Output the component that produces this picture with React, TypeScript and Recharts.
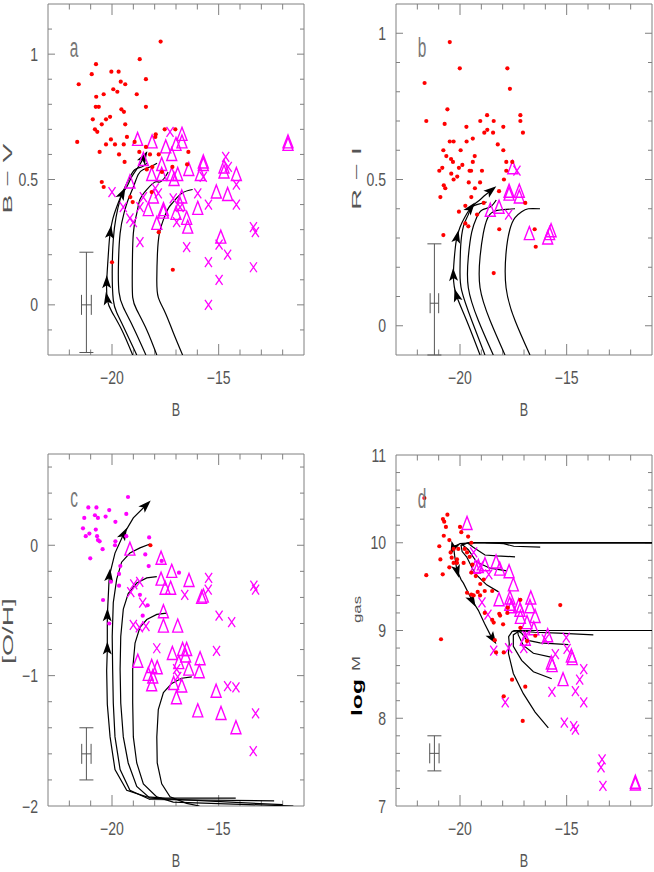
import React from 'react'
import { ComposedChart, XAxis, YAxis, Scatter, Line, ReferenceLine, ErrorBar, Label } from 'recharts'

type Pt = [number, number]

const FONT = '"Liberation Sans", Arial, sans-serif'
const MAG = '#ff00ff'
const RED = '#ff0000'
const AXIS = '#808080'
const TXT = '#555555'

const X_DOMAIN: Pt = [-23, -11]
const xTickLabels = [-20, -15]

// ---- panel a: B-V vs B ----
const aRed: Pt[] = [
  [-17.72, 1.05], [-18.7, 0.98], [-20.75, 0.96], [-20.95, 0.92], [-20.03, 0.93], [-19.69, 0.93], [-21.56, 0.88],
  [-19.59, 0.89], [-19.38, 0.88], [-18.41, 0.9], [-19.94, 0.86], [-19.75, 0.85], [-18.84, 0.84], [-20.39, 0.84],
  [-20.74, 0.83], [-20.76, 0.79], [-20.62, 0.79], [-18.41, 0.79], [-19.56, 0.78], [-19.44, 0.77], [-20.9, 0.74],
  [-20.09, 0.75], [-20.28, 0.74], [-20.48, 0.72], [-19.38, 0.72], [-20.8, 0.7], [-20.69, 0.69], [-19.3, 0.67],
  [-20.05, 0.66], [-21.63, 0.65], [-20.28, 0.64], [-19.86, 0.64], [-19.45, 0.64], [-18.94, 0.65], [-17.97, 0.67],
  [-17.95, 0.68], [-17.53, 0.7], [-17.03, 0.7], [-20.58, 0.61], [-19.67, 0.6], [-18.41, 0.63], [-18.72, 0.61],
  [-18.22, 0.6], [-17.81, 0.6], [-19.41, 0.57], [-16.42, 0.61], [-16.48, 0.56], [-17.17, 0.55], [-18.37, 0.54],
  [-18.11, 0.55], [-20.48, 0.49], [-20.39, 0.47], [-18.14, 0.45], [-19.03, 0.41], [-19.14, 0.43], [-17.81, 0.29],
  [-20.0, 0.17], [-17.15, 0.14], [-17.66, 0.53],
]
const aTri: Pt[] = [
  [-18.8, 0.66], [-18.12, 0.65], [-17.48, 0.63], [-16.72, 0.68], [-16.72, 0.65], [-17.0, 0.64], [-17.2, 0.6],
  [-18.53, 0.58], [-17.67, 0.56], [-17.67, 0.52], [-18.14, 0.52], [-17.2, 0.52], [-16.92, 0.52], [-17.09, 0.5],
  [-16.4, 0.54], [-15.72, 0.57], [-15.72, 0.56], [-15.86, 0.52], [-14.75, 0.55], [-14.75, 0.53], [-14.17, 0.52],
  [-19.16, 0.49], [-18.06, 0.43], [-18.3, 0.38], [-17.59, 0.38], [-17.59, 0.37], [-17.0, 0.365], [-16.73, 0.43],
  [-16.81, 0.4], [-17.9, 0.325], [-16.5, 0.345], [-16.45, 0.31], [-15.98, 0.385], [-15.11, 0.45], [-14.58, 0.44],
  [-14.9, 0.27], [-11.75, 0.64], [-11.75, 0.65],
]
const aCross: Pt[] = [
  [-17.28, 0.69], [-20.0, 0.45], [-19.47, 0.39], [-19.16, 0.345], [-19.0, 0.33], [-18.69, 0.25], [-18.53, 0.43],
  [-18.69, 0.39], [-17.97, 0.465], [-17.83, 0.445], [-17.13, 0.425], [-16.97, 0.33], [-16.81, 0.39], [-16.5, 0.23],
  [-15.98, 0.445], [-15.72, 0.51], [-15.48, 0.4], [-15.48, 0.17], [-15.48, 0.0], [-14.98, 0.1], [-14.98, 0.24],
  [-14.58, 0.2], [-14.67, 0.59], [-14.55, 0.55], [-14.17, 0.48], [-14.17, 0.4], [-13.37, 0.31], [-13.28, 0.29],
  [-13.37, 0.15],
]
const aTrack1: Pt[] = [
  [-19.03, -0.2], [-19.54, -0.1], [-20.01, -0.027], [-20.22, 0.02], [-20.25, 0.086], [-20.2, 0.165], [-20.15, 0.23],
  [-20.09, 0.285], [-19.97, 0.34], [-19.78, 0.39], [-19.54, 0.44], [-19.31, 0.47], [-19.08, 0.51], [-18.77, 0.55],
  [-18.53, 0.585], [-18.37, 0.61],
]
const aTrack2: Pt[] = [
  [-18.84, -0.2], [-19.39, -0.1], [-19.78, -0.03], [-19.94, 0.02], [-19.99, 0.126], [-19.94, 0.26], [-19.81, 0.35],
  [-19.62, 0.42], [-19.39, 0.47], [-19.16, 0.51], [-18.92, 0.54], [-18.61, 0.55], [-18.37, 0.565],
]
const aTrack3: Pt[] = [
  [-18.41, -0.2], [-19.0, -0.09], [-19.47, -0.01], [-19.67, 0.05], [-19.7, 0.15], [-19.62, 0.285], [-19.44, 0.365],
  [-19.24, 0.42], [-19.0, 0.47], [-18.77, 0.52], [-18.53, 0.54], [-18.22, 0.55], [-17.89, 0.565],
]
const aTrack4: Pt[] = [
  [-17.9, -0.2], [-18.37, -0.1], [-18.84, -0.02], [-19.03, 0.03], [-19.05, 0.126], [-19.0, 0.285], [-18.84, 0.365],
  [-18.69, 0.42], [-18.37, 0.46], [-17.98, 0.49], [-17.75, 0.49], [-17.51, 0.51], [-17.37, 0.53],
]
const aTrack5: Pt[] = [
  [-16.69, -0.2], [-17.13, -0.11], [-17.51, -0.03], [-17.83, 0.03], [-17.9, 0.1], [-17.87, 0.205], [-17.78, 0.285],
  [-17.59, 0.34], [-17.36, 0.385], [-17.13, 0.41], [-16.73, 0.445], [-16.22, 0.46],
]
const aArrows = [3, 4, 7, 10, 14]
const aErr = [{ x: -21.2, y: 0, ex: 0.23, ey: [0.19, 0.21] }]
const aYLabels = [0, 0.5, 1]

// ---- panel b: R-I vs B ----
const bRed: Pt[] = [
  [-20.48, 0.97], [-20.01, 0.88], [-21.66, 0.83], [-17.78, 0.88], [-17.66, 0.81], [-20.59, 0.74], [-21.58, 0.7],
  [-20.72, 0.69], [-19.7, 0.68], [-19.05, 0.7], [-18.73, 0.72], [-18.42, 0.7], [-18.86, 0.66], [-18.72, 0.67],
  [-18.45, 0.66], [-17.97, 0.68], [-17.17, 0.72], [-17.17, 0.7], [-17.05, 0.66], [-20.48, 0.63], [-20.3, 0.63],
  [-19.69, 0.63], [-19.4, 0.64], [-20.78, 0.6], [-19.97, 0.6], [-18.23, 0.62], [-17.97, 0.6], [-20.64, 0.58],
  [-19.31, 0.58], [-20.42, 0.57], [-20.33, 0.56], [-19.4, 0.56], [-19.89, 0.55], [-20.83, 0.54], [-20.05, 0.54],
  [-20.97, 0.53], [-19.55, 0.53], [-19.48, 0.53], [-18.97, 0.53], [-17.83, 0.56], [-17.55, 0.56], [-17.83, 0.53],
  [-20.41, 0.52], [-20.13, 0.51], [-20.3, 0.5], [-20.76, 0.48], [-20.69, 0.47], [-19.59, 0.49], [-19.06, 0.49],
  [-19.3, 0.47], [-17.94, 0.5], [-20.92, 0.44], [-19.47, 0.44], [-18.17, 0.46], [-18.89, 0.42], [-19.75, 0.41],
  [-20.05, 0.39], [-19.2, 0.38], [-16.94, 0.42], [-19.75, 0.35], [-19.61, 0.34], [-18.16, 0.33], [-20.78, 0.31],
  [-16.5, 0.33], [-16.45, 0.27], [-18.42, 0.18],
]
const bTri: Pt[] = [
  [-17.53, 0.54], [-17.7, 0.46], [-17.7, 0.45], [-17.22, 0.46], [-17.22, 0.44], [-18.58, 0.395], [-18.17, 0.405],
  [-16.75, 0.315], [-15.89, 0.3], [-15.73, 0.325], [-15.8, 0.315],
]
const bCross: Pt[] = [[-17.33, 0.53], [-17.72, 0.38]]
const bTrack1: Pt[] = [
  [-19.06, -0.1], [-19.69, 0.018], [-20.15, 0.1], [-20.31, 0.17], [-20.23, 0.26], [-20.15, 0.3], [-20.0, 0.337],
  [-19.77, 0.372], [-19.53, 0.4], [-19.3, 0.417], [-19.06, 0.431], [-18.83, 0.446], [-18.59, 0.46],
]
const bTrack2: Pt[] = [
  [-18.83, -0.1], [-19.45, 0.018], [-19.92, 0.12], [-20.0, 0.19], [-19.97, 0.27], [-19.84, 0.34], [-19.61, 0.38],
  [-19.45, 0.406], [-19.06, 0.417], [-18.75, 0.423],
]
const bTrack3: Pt[] = [
  [-18.44, -0.1], [-19.14, 0.018], [-19.61, 0.13], [-19.61, 0.235], [-19.45, 0.32], [-19.22, 0.37], [-18.98, 0.395],
  [-18.59, 0.406], [-18.3, 0.43],
]
const bTrack4: Pt[] = [
  [-17.89, -0.1], [-18.59, 0.018], [-19.06, 0.13], [-19.06, 0.235], [-18.91, 0.315], [-18.72, 0.366], [-18.44, 0.39],
  [-17.97, 0.397], [-17.42, 0.4],
]
const bTrack5: Pt[] = [
  [-16.72, -0.1], [-17.42, 0.018], [-17.84, 0.13], [-17.84, 0.25], [-17.66, 0.33], [-17.42, 0.37], [-17.11, 0.39],
  [-16.8, 0.4], [-16.25, 0.4],
]
const bArrows = [2, 3, 5, 8, 12]
const bErr = [{ x: -21.2, y: 0.077, ex: 0.2, ey: [0.177, 0.203] }]
const bYLabels = [0, 0.5, 1]

// ---- panel c: [O/H] vs B ----
const cDots: Pt[] = [
  [-19.25, 0.37], [-21.11, 0.29], [-20.73, 0.29], [-20.13, 0.27], [-21.3, 0.21], [-20.8, 0.23], [-20.66, 0.21],
  [-20.3, 0.22], [-19.33, 0.24], [-19.84, 0.18], [-21.36, 0.13], [-20.76, 0.12], [-21.06, 0.09], [-21.23, 0.07],
  [-20.7, 0.07], [-20.66, 0.04], [-20.58, 0.03], [-19.84, 0.03], [-19.33, 0.07], [-19.86, 0.0], [-18.26, 0.06],
  [-20.44, -0.03], [-21.02, -0.1], [-18.44, -0.07], [-17.67, -0.12], [-19.61, -0.16], [-18.28, -0.16],
  [-19.67, -0.22], [-16.86, -0.21], [-20.05, -0.28], [-19.67, -0.31], [-18.69, -0.38], [-20.42, -0.42],
  [-18.33, -0.46], [-18.56, -0.54], [-20.13, -0.6],
]
const cRed: Pt[] = [[-18.2, 0.0]]
const cTri: Pt[] = [
  [-19.16, -0.03], [-17.7, -0.1], [-17.2, -0.2], [-17.7, -0.26], [-17.51, -0.33], [-17.25, -0.33], [-16.39, -0.27],
  [-17.59, -0.51], [-17.59, -0.62], [-16.92, -0.62], [-18.79, -0.89], [-18.14, -0.93], [-18.3, -0.99],
  [-17.88, -0.94], [-18.09, -1.01], [-18.14, -1.07], [-17.17, -0.83], [-16.69, -0.8], [-16.5, -0.8],
  [-16.55, -0.85], [-16.87, -0.9], [-15.87, -0.87], [-16.4, -0.95], [-15.91, -0.97], [-17.11, -1.06],
  [-16.73, -1.08], [-16.98, -1.17], [-15.12, -1.12], [-15.98, -1.27], [-14.89, -1.29], [-14.19, -1.4],
  [-15.72, -0.39], [-15.8, -0.4],
]
const cCross: Pt[] = [
  [-15.47, -0.25], [-15.49, -0.34], [-16.59, -0.38], [-19.12, -0.36], [-18.98, -0.3], [-18.7, -0.28],
  [-18.56, -0.44], [-19.0, -0.61], [-18.72, -0.63], [-18.41, -0.62], [-17.9, -0.79], [-14.98, -0.54],
  [-14.39, -0.59], [-15.1, -0.81], [-14.58, -1.08], [-14.19, -1.09], [-13.35, -0.31], [-13.27, -0.34],
  [-13.27, -1.29], [-13.38, -1.58], [-16.97, -0.95], [-16.92, -1.01],
]
const cTrack1: Pt[] = [
  [-14.2, -1.94], [-17.5, -1.94], [-18.37, -1.93], [-19.31, -1.88], [-19.86, -1.72], [-20.09, -1.47],
  [-20.22, -1.22], [-20.25, -0.96], [-20.22, -0.8], [-20.22, -0.545], [-20.13, -0.24], [-19.86, -0.06],
  [-19.47, 0.08], [-19.0, 0.21], [-18.45, 0.3],
]
const cTrack2: Pt[] = [
  [-12.4, -1.96], [-18.22, -1.95], [-19.16, -1.88], [-19.62, -1.72], [-19.86, -1.47], [-19.94, -1.21],
  [-19.97, -0.95], [-19.99, -0.7], [-19.94, -0.44], [-19.78, -0.26], [-19.55, -0.13], [-19.16, -0.06],
  [-18.69, -0.02], [-18.22, 0.01],
]
const cTrack3: Pt[] = [
  [-12.0, -1.99], [-18.22, -1.94], [-18.84, -1.85], [-19.24, -1.67], [-19.47, -1.47], [-19.59, -1.21],
  [-19.62, -0.95], [-19.59, -0.7], [-19.47, -0.49], [-19.24, -0.37], [-18.84, -0.29], [-18.37, -0.25],
  [-17.9, -0.24],
]
const cTrack4: Pt[] = [
  [-11.5, -2.0], [-17.13, -1.97], [-17.9, -1.93], [-18.53, -1.83], [-18.84, -1.67], [-19.0, -1.47],
  [-19.03, -1.21], [-19.03, -0.95], [-18.92, -0.75], [-18.69, -0.63], [-18.37, -0.57], [-17.9, -0.53],
  [-17.44, -0.52],
]
const cTrack5: Pt[] = [
  [-15.9, -2.0], [-16.5, -1.98], [-17.28, -1.93], [-17.67, -1.83], [-17.88, -1.67], [-17.9, -1.47],
  [-17.83, -1.26], [-17.59, -1.13], [-17.2, -1.06], [-16.73, -1.02], [-16.26, -1.01],
]
const cArrows = [8, 9, 10, 12, 14]
const cErr = [{ x: -21.2, y: -1.6, ex: 0.22, ey: 0.2 }]
const cYLabels = [-2, -1, 0]

// ---- panel d: log M_gas vs B ----
const dRed: Pt[] = [
  [-21.67, 10.51], [-20.59, 10.32], [-20.8, 10.27], [-20.74, 10.24], [-20.66, 10.18], [-20.0, 10.18],
  [-19.94, 10.12], [-20.76, 10.08], [-19.62, 10.07], [-20.5, 10.03], [-20.97, 9.96], [-20.3, 9.93],
  [-20.08, 9.93], [-19.47, 10.0], [-19.78, 9.93], [-20.44, 9.89], [-20.92, 9.81], [-20.39, 9.83],
  [-20.14, 9.81], [-19.67, 9.89], [-19.55, 9.84], [-20.14, 9.77], [-20.3, 9.77], [-20.5, 9.72],
  [-19.83, 9.77], [-19.42, 9.75], [-21.58, 9.63], [-20.81, 9.64], [-19.47, 9.66], [-19.26, 9.62],
  [-19.05, 9.53], [-18.89, 9.58], [-18.84, 9.45], [-19.67, 9.43], [-19.47, 9.41], [-19.36, 9.4],
  [-19.17, 9.44], [-19.06, 9.4], [-18.49, 9.45], [-18.84, 9.2], [-18.16, 9.19], [-18.12, 9.17],
  [-18.49, 9.12], [-18.42, 9.09], [-17.98, 9.07], [-17.76, 9.26], [-17.78, 9.2], [-17.17, 9.35],
  [-17.17, 9.03], [-16.86, 8.88], [-16.47, 8.94], [-18.37, 8.89], [-18.31, 8.75], [-17.95, 8.75],
  [-17.56, 8.44], [-17.95, 8.25], [-16.94, 8.36], [-15.3, 9.29], [-17.06, 7.97], [-20.89, 8.9],
]
const dTri: Pt[] = [
  [-19.67, 10.22], [-19.14, 9.73], [-18.83, 9.75], [-18.31, 9.78], [-17.7, 9.67], [-17.5, 9.52], [-18.17, 9.35],
  [-17.66, 9.37], [-17.58, 9.27], [-17.19, 9.23], [-16.68, 9.37], [-16.72, 9.27], [-16.48, 9.16],
  [-19.28, 9.72], [-18.14, 9.7], [-17.67, 9.3], [-17.25, 9.28], [-17.17, 9.15], [-16.86, 9.09],
  [-16.54, 9.02], [-16.94, 8.9], [-15.89, 8.94], [-15.72, 8.63], [-15.68, 8.6], [-14.78, 8.71],
  [-14.74, 8.68], [-15.17, 8.44], [-11.78, 7.27], [-11.78, 7.25],
]
const dCross: Pt[] = [
  [-19.36, 9.89], [-19.05, 9.74], [-18.65, 9.64], [-18.97, 9.32], [-18.69, 9.18], [-18.42, 8.77], [-17.72, 8.8],
  [-17.88, 8.18], [-17.01, 8.8], [-16.91, 8.94], [-16.0, 8.9], [-15.53, 8.73], [-15.69, 8.3], [-15.02, 8.92],
  [-14.98, 8.79], [-15.11, 7.95], [-14.67, 7.91], [-14.59, 7.87], [-14.59, 8.31], [-14.39, 8.44],
  [-14.2, 8.56], [-14.2, 8.18], [-13.34, 7.53], [-13.39, 7.44], [-13.3, 7.23],
]
const dTrackA: Pt[] = [
  [-11, 10.0], [-19.5, 10.0], [-20.0, 9.99], [-20.3, 9.95], [-20.25, 9.85], [-20.15, 9.69], [-19.95, 9.58],
  [-19.84, 9.54], [-19.45, 9.35], [-19.14, 9.23], [-18.85, 9.08], [-18.58, 8.95], [-18.5, 8.92],
]
const dTrackB: Pt[] = [[-11, 10.0], [-19.6, 10.0], [-19.95, 9.97], [-19.9, 9.9], [-19.69, 9.84], [-19.3, 9.65], [-18.75, 9.52], [-18.19, 9.44]]
const dTrackC: Pt[] = [[-11, 10.0], [-19.6, 10.0], [-19.9, 9.98], [-19.61, 9.92], [-19.22, 9.78], [-18.59, 9.71], [-17.8, 9.68]]
const dTrackD: Pt[] = [[-11, 10.0], [-19.3, 10.0], [-19.6, 9.99], [-19.38, 9.95], [-18.83, 9.86], [-18.28, 9.85], [-17.42, 9.84]]
const dTrackE: Pt[] = [[-11, 10.0], [-18.8, 10.0], [-17.95, 9.99], [-17.48, 9.96], [-16.24, 9.95]]
const dTrackL1: Pt[] = [
  [-11, 9.0], [-17.0, 9.0], [-17.55, 8.99], [-17.72, 8.93], [-17.69, 8.85], [-17.73, 8.74], [-17.5, 8.51],
  [-17.03, 8.28], [-16.48, 8.07], [-15.86, 7.89],
]
const dTrackL2: Pt[] = [[-11, 9.0], [-17.2, 9.0], [-17.5, 8.95], [-17.5, 8.82], [-17.11, 8.66], [-16.56, 8.53], [-15.7, 8.45]]
const dTrackL3: Pt[] = [[-11, 9.0], [-17.3, 9.0], [-17.27, 8.95], [-17.03, 8.83], [-16.56, 8.74], [-15.63, 8.69]]
const dTrackL4: Pt[] = [[-11, 9.0], [-17.3, 9.0], [-17.11, 8.97], [-16.87, 8.89], [-16.25, 8.86], [-14.92, 8.84]]
const dTrackL5: Pt[] = [[-11, 9.0], [-17.5, 9.0], [-16.5, 8.98], [-15.39, 8.97], [-13.75, 8.95]]
const dArrows = [3, 5, 8, 12]
const dErr = [{ x: -21.2, y: 7.6, ex: 0.22, ey: 0.2 }]
const dYLabels = [7, 8, 9, 10, 11]

// ---- helpers ----
const toXY = (arr: Pt[]) => arr.map(([x, y]) => ({ x, y }))
const trackData = (arr: Pt[], arrows: number[]) => arr.map(([x, y], i) => ({ x, y, arrow: arrows.includes(i) }))
const fmt = (v: number) => (v < 0 ? '\u2212' + Math.abs(v) : String(v))

function inner(lo: number, hi: number, step: number) {
  const out: number[] = []
  const k0 = Math.ceil(lo / step - 1e-9)
  const k1 = Math.floor(hi / step + 1e-9)
  for (let k = k0; k <= k1; k++) {
    const v = +(k * step).toFixed(6)
    if (v > lo + 1e-9 && v < hi - 1e-9) out.push(v)
  }
  return out
}
const isMajor = (v: number, m: number) => Math.abs(v / m - Math.round(v / m)) < 1e-6

function frame(yd: Pt, yStep: number, yMajor: number, plotW: number, plotH: number) {
  const [x0, x1] = X_DOMAIN
  const [y0, y1] = yd
  const ux = (x1 - x0) / plotW
  const uy = (y1 - y0) / plotH
  const segs: { x: number; y: number }[][] = [
    [{ x: x0, y: y0 }, { x: x1, y: y0 }],
    [{ x: x0, y: y1 }, { x: x1, y: y1 }],
    [{ x: x0, y: y0 }, { x: x0, y: y1 }],
    [{ x: x1, y: y0 }, { x: x1, y: y1 }],
  ]
  inner(x0, x1, 1).forEach((v) => {
    const l = (isMajor(v, 5) ? 11 : 5.5) * uy
    segs.push([{ x: v, y: y0 }, { x: v, y: y0 + l }], [{ x: v, y: y1 }, { x: v, y: y1 - l }])
  })
  inner(y0, y1, yStep).forEach((v) => {
    const l = (isMajor(v, yMajor) ? 7 : 4) * ux
    segs.push([{ x: x0, y: v }, { x: x0 + l, y: v }], [{ x: x1, y: v }, { x: x1 - l, y: v }])
  })
  return segs.map((s, i) => (
    <ReferenceLine key={`f${i}`} segment={s} stroke={AXIS} strokeWidth={1} ifOverflow="visible" />
  ))
}

const XTick = (p: any) => (
  <text
    x={0}
    y={0}
    transform={`translate(${p.x},${p.y + 29}) scale(0.78,1)`}
    textAnchor="middle"
    fontSize={18}
    fontFamily={FONT}
    fill={TXT}
  >
    {fmt(p.payload.value)}
  </text>
)

const YTick = (p: any) => (
  <text
    x={0}
    y={0}
    transform={`translate(${p.x - 10},${p.y + 6.5}) scale(0.78,1)`}
    textAnchor="end"
    fontSize={18}
    fontFamily={FONT}
    fill={TXT}
  >
    {fmt(p.payload.value)}
  </text>
)

const arrowDot = (p: any) => {
  const { cx, cy, index, payload, points } = p
  if (!payload || !payload.arrow || cx == null) return <g key={`d${index}`} />
  let a = -Math.PI / 2
  if (points && points.length > 1) {
    const p0 = points[Math.max(0, index - 1)]
    const p1 = points[Math.min(points.length - 1, index + 1)]
    a = Math.atan2(p1.y - p0.y, p1.x - p0.x)
  }
  return (
    <path
      key={`d${index}`}
      d="M8,0 L-5,-4.5 L-2,0 L-5,4.5 Z"
      transform={`translate(${cx},${cy}) rotate(${(a * 180) / Math.PI})`}
      fill="#000"
    />
  )
}

const TriShape = (p: any) => (
  <path
    d={`M${p.cx},${p.cy - 7} L${p.cx + 5},${p.cy + 6} L${p.cx - 5},${p.cy + 6} Z`}
    fill="none"
    stroke={MAG}
    strokeWidth={1.4}
  />
)
const CrossShape = (p: any) => (
  <path
    d={`M${p.cx - 3.5},${p.cy - 5} L${p.cx + 3.5},${p.cy + 5} M${p.cx + 3.5},${p.cy - 5} L${p.cx - 3.5},${p.cy + 5}`}
    stroke={MAG}
    strokeWidth={1.3}
    fill="none"
  />
)
const dotShape = (color: string) => (p: any) => <circle cx={p.cx} cy={p.cy} r={2.1} fill={color} />

// natural width of a string, so a title can be stretched to a given length
let measureCtx: CanvasRenderingContext2D | null = null
function textWidth(text: string, size: number, bold: boolean) {
  if (!measureCtx && typeof document !== 'undefined') {
    measureCtx = document.createElement('canvas').getContext('2d')
  }
  if (!measureCtx) return text.length * size * 0.55
  measureCtx.font = `${bold ? 'bold ' : ''}${size}px "Liberation Sans", Arial, sans-serif`
  return measureCtx.measureText(text).width || text.length * size * 0.55
}

// vertical title text, centred on (cx, cy), reading bottom to top, stretched to len px
const rotText = (cx: number, cy: number, text: string, size: number, len: number, bold = false, fill = TXT) => {
  const sx = len / textWidth(text, size, bold)
  return (
    <text
      key={text}
      x={0}
      y={0}
      transform={`translate(${cx},${cy}) rotate(-90) scale(${sx},1)`}
      textAnchor="middle"
      dominantBaseline="central"
      fontSize={size}
      fontFamily={FONT}
      fontWeight={bold ? 'bold' : 'normal'}
      fill={fill}
    >
      {text}
    </text>
  )
}

interface PanelProps {
  left: number
  top: number
  margin: { top: number; right: number; bottom: number; left: number }
  yDomain: Pt
  yStep: number
  yMajor: number
  yLabels: number[]
  dots: Pt[]
  dotColor: string
  red?: Pt[]
  tri: Pt[]
  cross: Pt[]
  tracks: Pt[][]
  arrows: number[]
  curve: 'natural' | 'linear'
  err: any[]
  tag: string
  tagAt: Pt
  yTitle: (cx: number, cy: number) => React.ReactNode
}

function Panel(p: PanelProps) {
  const W = 327
  const H = 436
  const XH = 60
  const YW = 45
  const plotW = W - p.margin.left - YW - p.margin.right
  const plotH = H - p.margin.top - p.margin.bottom - XH
  // title centre: 40px left of the frame, halfway down the plot
  const titleX = p.margin.left + YW - 40
  const titleY = p.margin.top + plotH / 2
  return (
    <div style={{ position: 'absolute', left: p.left, top: p.top }}>
      <ComposedChart width={W} height={H} margin={p.margin}>
        <XAxis
          type="number"
          dataKey="x"
          domain={X_DOMAIN}
          allowDataOverflow
          ticks={xTickLabels}
          interval={0}
          tick={XTick}
          tickLine={false}
          axisLine={false}
          tickSize={0}
          tickMargin={0}
          height={XH}
        >
          <Label
            content={(lp: any) => {
              const vb = lp.viewBox
              return (
                <text
                  x={0}
                  y={0}
                  transform={`translate(${vb.x + vb.width / 2},${vb.y + 61}) scale(0.7,1)`}
                  textAnchor="middle"
                  fontSize={18}
                  fontFamily={FONT}
                  fill={TXT}
                >
                  B
                </text>
              )
            }}
          />
        </XAxis>
        <YAxis
          type="number"
          dataKey="y"
          domain={p.yDomain}
          allowDataOverflow
          ticks={p.yLabels}
          interval={0}
          tick={YTick}
          tickLine={false}
          axisLine={false}
          tickSize={0}
          tickMargin={0}
          width={YW}
        >
          <Label content={() => <g>{p.yTitle(titleX, titleY)}</g>} />
        </YAxis>
        {frame(p.yDomain, p.yStep, p.yMajor, plotW, plotH)}
        <Scatter data={p.err} shape={() => <g />} isAnimationActive={false}>
          <ErrorBar dataKey="ex" direction="x" width={10} stroke={TXT} strokeWidth={1} />
          <ErrorBar dataKey="ey" direction="y" width={7} stroke={TXT} strokeWidth={1} />
        </Scatter>
        {p.tracks.map((t, i) => (
          <Line
            key={`t${i}`}
            data={trackData(t, i === 0 ? p.arrows : [])}
            dataKey="y"
            type={p.curve}
            stroke="#000"
            strokeWidth={1.2}
            dot={i === 0 ? arrowDot : false}
            activeDot={false}
            isAnimationActive={false}
          />
        ))}
        <Scatter data={toXY(p.tri)} shape={TriShape} isAnimationActive={false} />
        <Scatter data={toXY(p.cross)} shape={CrossShape} isAnimationActive={false} />
        <Scatter data={toXY(p.dots)} shape={dotShape(p.dotColor)} isAnimationActive={false} />
        {p.red && <Scatter data={toXY(p.red)} shape={dotShape(RED)} isAnimationActive={false} />}
        <Scatter
          data={[{ x: p.tagAt[0], y: p.tagAt[1] }]}
          isAnimationActive={false}
          shape={(s: any) => (
            <text
              x={0}
              y={0}
              transform={`translate(${s.cx},${s.cy}) scale(0.55,1)`}
              textAnchor="middle"
              fontSize={28}
              fontFamily={FONT}
              fill="#777"
            >
              {p.tag}
            </text>
          )}
        />
      </ComposedChart>
    </div>
  )
}

export default function App() {
  return (
    <div style={{ position: 'absolute', left: 0, top: 0, width: 654, height: 872, background: '#fff', overflow: 'hidden' }}>
      <Panel
        left={0}
        top={0}
        margin={{ top: 4, right: 23, bottom: 21, left: 3 }}
        yDomain={[-0.2, 1.2]}
        yStep={0.1}
        yMajor={0.5}
        yLabels={aYLabels}
        dots={aRed}
        dotColor={RED}
        tri={aTri}
        cross={aCross}
        tracks={[aTrack1, aTrack2, aTrack3, aTrack4, aTrack5]}
        arrows={aArrows}
        curve="natural"
        err={aErr}
        tag="a"
        tagAt={[-21.78, 0.99]}
        yTitle={(cx, cy) => rotText(cx, cy - 1, 'B \u2212 V', 13, 70)}
      />
      <Panel
        left={327}
        top={0}
        margin={{ top: 4, right: 2, bottom: 21, left: 24 }}
        yDomain={[-0.1, 1.1]}
        yStep={0.1}
        yMajor={0.5}
        yLabels={bYLabels}
        dots={bRed}
        dotColor={RED}
        tri={bTri}
        cross={bCross}
        tracks={[bTrack1, bTrack2, bTrack3, bTrack4, bTrack5]}
        arrows={bArrows}
        curve="natural"
        err={bErr}
        tag="b"
        tagAt={[-21.78, 0.92]}
        yTitle={(cx, cy) => rotText(cx, cy - 1, 'R \u2212 I', 13, 63)}
      />
      <Panel
        left={0}
        top={436}
        margin={{ top: 18, right: 23, bottom: 6, left: 3 }}
        yDomain={[-2, 0.7]}
        yStep={0.2}
        yMajor={1}
        yLabels={cYLabels}
        dots={cDots}
        dotColor={MAG}
        red={cRed}
        tri={cTri}
        cross={cCross}
        tracks={[cTrack1, cTrack2, cTrack3, cTrack4, cTrack5]}
        arrows={cArrows}
        curve="linear"
        err={cErr}
        tag="c"
        tagAt={[-21.78, 0.29]}
        yTitle={(cx, cy) => rotText(cx, cy + 1, '[O/H]', 14, 66)}
      />
      <Panel
        left={327}
        top={436}
        margin={{ top: 19, right: 2, bottom: 6, left: 24 }}
        yDomain={[7, 11]}
        yStep={0.2}
        yMajor={1}
        yLabels={dYLabels}
        dots={dRed}
        dotColor={RED}
        tri={dTri}
        cross={dCross}
        tracks={[dTrackA, dTrackB, dTrackC, dTrackD, dTrackE, dTrackL1, dTrackL2, dTrackL3, dTrackL4, dTrackL5]}
        arrows={dArrows}
        curve="linear"
        err={dErr}
        tag="d"
        tagAt={[-21.78, 10.4]}
        yTitle={(cx, cy) => [
          rotText(cx + 1, cy + 67, 'log', 15, 37, true, '#000'),
          rotText(cx, cy + 33, 'M', 11, 15),
          rotText(cx + 1, cy - 21, 'gas', 11, 27),
        ]}
      />
    </div>
  )
}
